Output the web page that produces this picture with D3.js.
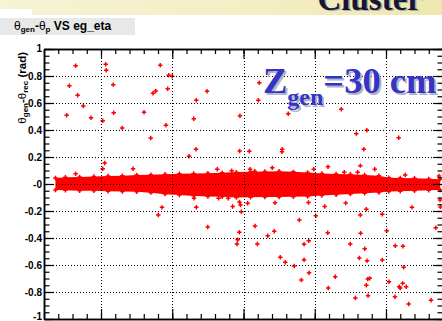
<!DOCTYPE html>
<html><head><meta charset="utf-8">
<script src="https://cdn.jsdelivr.net/npm/d3@7"></script>
<style>
html,body{margin:0;padding:0;background:#fff;}
svg{display:block;}
</style></head><body>
<svg id="c" width="442" height="321"></svg>
<script>
// Printed y-axis labels
const yTickValues = [1, 0.8, 0.6, 0.4, 0.2, 0, -0.2, -0.4, -0.6, -0.8, -1];
const yTickLabels = ["1", "0.8", "0.6", "0.4", "0.2", "-0", "-0.2", "-0.4", "-0.6", "-0.8", "-1"];

// Dense core of the distribution: upper / lower envelope along eg_eta
const bandEta = [-1.82, -1.75, -1.65, -1.55, -1.45, -1.35, -1.25, -1.15, -1.05, -0.95,
                 -0.85, -0.75, -0.65, -0.55, -0.45, -0.35, -0.25, -0.15, -0.05, 0.05,
                 0.15, 0.25, 0.35, 0.45, 0.52, 0.6, 0.7, 0.8, 0.88];
const bandHi = [0.045, 0.050, 0.052, 0.056, 0.060, 0.062, 0.066, 0.068, 0.072, 0.076,
                0.078, 0.080, 0.084, 0.088, 0.090, 0.092, 0.094, 0.090, 0.086, 0.078,
                0.075, 0.072, 0.066, 0.062, 0.046, 0.044, 0.042, 0.038, 0.036];
const bandLo = [-0.045, -0.046, -0.050, -0.050, -0.053, -0.055, -0.058, -0.064, -0.075, -0.082,
                -0.088, -0.092, -0.095, -0.100, -0.098, -0.097, -0.096, -0.095, -0.093, -0.086,
                -0.080, -0.074, -0.068, -0.063, -0.056, -0.054, -0.050, -0.046, -0.044];

// Individual entries away from the core
const outlierEta = [-1.678, -1.467, -1.463, -1.084, -1.025, -1.000, -1.722, -1.414, -1.664, -1.135,
                    -1.116, -1.032, -0.756, -0.831, -1.624, -1.741, -1.570, -1.488, -1.411, -1.198,
                    -0.849, -0.525, -1.351, -1.044, -1.151, -0.833, -0.527, -0.882, -1.474, -1.488,
                    -1.275, -0.684, -0.583, -1.678, -0.389, -0.396, -0.186, 0.186, 0.292, 0.365,
                    0.589, -0.459, -0.228, -0.230, 0.344, -0.454, -0.298, -0.007, 0.093, 0.320,
                    0.421, 0.207, 0.301, 0.635, -0.421,
                    -1.098, -1.072, -0.831, -0.576, -0.515, -0.847, -0.675, -0.607, -0.279, -0.108,
                    0.007, 0.070, 0.217, 0.362, 0.474, 0.682, -0.044, 0.320, -0.471, -0.521, -0.528,
                    -0.751, -0.529, -0.541, -0.546, -0.419, -0.330, -0.284, -0.403, -0.242, -0.207,
                    -0.144, -0.075, -0.075, -0.042, -0.040, -0.094, 0.091, 0.322, 0.249, 0.351,
                    0.313, 0.367, 0.474, 0.144, 0.095, 0.372, 0.386, 0.362, 0.285, 0.374,
                    0.505, 0.565, 0.619, 0.624, 0.521, 0.617, 0.593, 0.600, 0.642, 0.563,
                    0.659, 0.816, 0.849, 0.879, 0.882, 0.872];
const outlierVal = [0.876, 0.887, 0.842, 0.879, 0.805, 0.798, 0.728, 0.736, 0.657, 0.672,
                    0.689, 0.706, 0.687, 0.620, 0.578, 0.509, 0.491, 0.469, 0.528, 0.531,
                    0.484, 0.506, 0.415, 0.435, 0.341, 0.257, 0.244, 0.205, 0.156, 0.113,
                    0.113, 0.109, 0.099, 0.076, 0.750, 0.620, 0.521, 0.553, 0.373, 0.398,
                    0.343, 0.242, 0.257, 0.239, 0.257, 0.109, 0.121, 0.109, 0.128, 0.136,
                    0.109, 0.087, 0.087, 0.067, 0.094,
                    -0.230, -0.173, -0.172, -0.167, -0.205, -0.106, -0.106, -0.106, -0.139, -0.267,
                    -0.235, -0.167, -0.141, -0.187, -0.224, -0.173, -0.137, -0.230, -0.143, -0.156, -0.133,
                    -0.319, -0.358, -0.413, -0.444, -0.311, -0.383, -0.350, -0.444, -0.543, -0.580,
                    -0.607, -0.561, -0.447, -0.420, -0.657, -0.711, -0.361, -0.365, -0.444, -0.479,
                    -0.548, -0.568, -0.563, -0.687, -0.770, -0.704, -0.699, -0.750, -0.844, -0.827,
                    -0.346, -0.457, -0.461, -0.617, -0.724, -0.736, -0.761, -0.770, -0.761, -0.835,
                    -0.889, -0.861, -0.324, -0.119, -0.170, 0.059];

const svg = d3.select("#c");
const frame = {left: 44, right: 443, top: 49, bottom: 319};
const x = d3.scaleLinear().domain([-1.9, 0.9]).range([frame.left, frame.right]);
const y = d3.scaleLinear().domain([-1, 1]).range([frame.bottom, frame.top]);

// Page banner strip
const defs = svg.append("defs");
const g1 = defs.append("linearGradient").attr("id", "banner").attr("x1", 0).attr("x2", 1);
g1.append("stop").attr("offset", 0).attr("stop-color", "#f6f3d6");
g1.append("stop").attr("offset", 0.6).attr("stop-color", "#f3eec4");
g1.append("stop").attr("offset", 1).attr("stop-color", "#eee7ae");
svg.append("rect").attr("x", 0).attr("y", 0).attr("width", 442).attr("height", 15).attr("fill", "url(#banner)");
svg.append("rect").attr("x", 0).attr("y", 9).attr("width", 32).attr("height", 6).attr("fill", "#ffffff");
svg.append("text").attr("x", 319).attr("y", 10.5).attr("font-family", "Liberation Serif")
  .attr("font-weight", "bold").attr("font-size", 33).attr("fill", "#a8a8a8").text("Cluster");
svg.append("text").attr("x", 317.5).attr("y", 9.5).attr("font-family", "Liberation Serif")
  .attr("font-weight", "bold").attr("font-size", 33).attr("fill", "#161630").text("Cluster");

// Histogram title box
svg.append("rect").attr("x", 0).attr("y", 18).attr("width", 135).attr("height", 17).attr("fill", "#e8e8e8");
const title = svg.append("text").attr("x", 14).attr("y", 30)
  .attr("font-family", "Liberation Sans").attr("font-weight", "bold").attr("font-size", 12).attr("fill", "#000");
title.append("tspan").attr("font-weight", "normal").text("θ");
title.append("tspan").attr("font-size", 8).attr("dy", 2).text("gen");
title.append("tspan").attr("dy", -2).text("-");
title.append("tspan").attr("font-weight", "normal").text("θ");
title.append("tspan").attr("font-size", 8).attr("dy", 2).text("p");
title.append("tspan").attr("dy", -2).text(" VS eg_eta");

const plot = svg.append("g");

// Dense core
plot.append("path")
  .datum(bandEta.map((e, i) => ({e, hi: bandHi[i], lo: bandLo[i]})))
  .attr("fill", "#ff0000")
  .attr("d", d3.area().x(d => x(d.e)).y0(d => y(d.lo)).y1(d => y(d.hi)));

// Marker shape used for every entry
const cross = d3.symbol().type(d3.symbolCross).size(11)();
const edgePts = [];
bandEta.forEach((e, i) => { edgePts.push([e, bandHi[i]]); edgePts.push([e, bandLo[i]]); });
plot.selectAll("path.edge").data(edgePts).join("path").attr("class", "edge")
  .attr("d", cross).attr("fill", "#ff0000")
  .attr("transform", d => `translate(${x(d[0])},${y(d[1])})`);
plot.selectAll("path.pt").data(outlierEta.map((e, i) => [e, outlierVal[i]])).join("path").attr("class", "pt")
  .attr("d", cross).attr("fill", "#ff0000")
  .attr("transform", d => `translate(${x(d[0])},${y(d[1])})`);

// Grid (drawn over the markers)
const grid = svg.append("g").attr("stroke", "#000").attr("stroke-width", 1).attr("stroke-dasharray", "1,2");
grid.selectAll("line.v").data(x.ticks(5)).join("line").attr("class", "v")
  .attr("x1", d => Math.round(x(d)) + 0.5).attr("x2", d => Math.round(x(d)) + 0.5)
  .attr("y1", frame.top).attr("y2", frame.bottom);
grid.selectAll("line.h").data(y.ticks(10).filter(v => v > -1 && v < 1)).join("line").attr("class", "h")
  .attr("y1", d => Math.round(y(d)) + 0.5).attr("y2", d => Math.round(y(d)) + 0.5)
  .attr("x1", frame.left).attr("x2", frame.right);

// Axes with ticks on all four sides
function style(g) {
  g.selectAll(".domain").attr("stroke", "#000").attr("stroke-width", 1.5);
  g.selectAll(".tick line").attr("stroke", "#000").attr("stroke-width", 1.2);
}
const ax = svg.append("g");
ax.append("g").attr("transform", `translate(${frame.left},0)`)
  .call(d3.axisLeft(y).tickValues(y.ticks(40)).tickSizeInner(-5.5).tickSizeOuter(0).tickFormat(""))
  .call(style);
ax.append("g").attr("transform", `translate(${frame.left},0)`)
  .call(d3.axisLeft(y).tickValues(yTickValues).tickSizeInner(-10).tickSizeOuter(0).tickPadding(2)
        .tickFormat((d, i) => yTickLabels[i]))
  .call(style)
  .call(g => g.selectAll("text").attr("font-family", "Liberation Sans").attr("font-weight", "bold")
        .attr("font-size", 10).attr("fill", "#000"))
  .call(g => g.selectAll(".tick").filter(d => d === -1).select("text").attr("dy", "0.05em"))
  .call(g => g.selectAll(".tick").filter(d => d === 1).select("text").attr("dy", "0.2em"));
ax.append("g").attr("transform", `translate(${frame.right},0)`)
  .call(d3.axisRight(y).tickValues(y.ticks(40)).tickSizeInner(-5.5).tickSizeOuter(0).tickFormat(""))
  .call(style);
ax.append("g").attr("transform", `translate(${frame.right},0)`)
  .call(d3.axisRight(y).tickValues(yTickValues).tickSizeInner(-10).tickSizeOuter(0).tickFormat(""))
  .call(style);
[["axisTop", frame.top], ["axisBottom", frame.bottom]].forEach(([fn, pos]) => {
  ax.append("g").attr("transform", `translate(0,${pos})`)
    .call(d3[fn](x).ticks(28).tickSizeInner(-5).tickSizeOuter(0).tickFormat(""))
    .call(style);
  ax.append("g").attr("transform", `translate(0,${pos})`)
    .call(d3[fn](x).ticks(5).tickSizeInner(-10).tickSizeOuter(0).tickFormat(""))
    .call(style);
});

// Y axis title
const yt = svg.append("text").attr("transform", "translate(25.5,52) rotate(-90)")
  .attr("text-anchor", "end").attr("font-family", "Liberation Sans").attr("font-weight", "bold")
  .attr("font-size", 11.5).attr("fill", "#000");
yt.append("tspan").attr("font-weight", "normal").text("θ");
yt.append("tspan").attr("font-size", 8).attr("dy", 2.5).text("gen");
yt.append("tspan").attr("dy", -2.5).text("-");
yt.append("tspan").attr("font-weight", "normal").text("θ");
yt.append("tspan").attr("font-size", 8).attr("dy", 2.5).text("rec");
yt.append("tspan").attr("dy", -2.5).text(" (rad)");

// Annotation
function zLabel(dx, dy, fill) {
  const t = svg.append("text").attr("x", 263 + dx).attr("y", 93 + dy)
    .attr("font-family", "Liberation Serif").attr("font-weight", "bold").attr("font-size", 36.5).attr("fill", fill);
  t.append("tspan").text("Z");
  t.append("tspan").attr("font-size", 24).attr("dy", 12).text("gen");
  t.append("tspan").attr("dy", -12).text("=30 cm");
}
zLabel(2, 2, "#b4b4c4");
zLabel(0, 0, "#3434c8");
</script>
</body></html>
